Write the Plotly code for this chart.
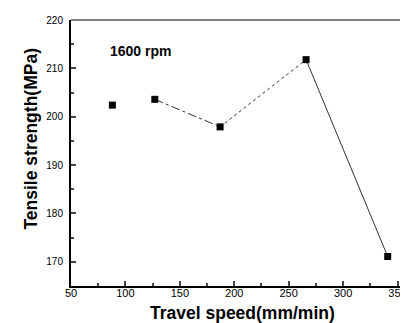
import plotly.graph_objects as go

speed = [88, 127, 187, 266, 341]
strength = [202.4, 203.6, 197.9, 211.8, 171.1]
seg_dash = [None, "dashdot", "dot", "solid"]
x_ticks = [50, 100, 150, 200, 250, 300, 350]
y_ticks = [170, 180, 190, 200, 210, 220]

fig = go.Figure()
for i, d in enumerate(seg_dash):
    if d is None:
        continue
    fig.add_trace(go.Scatter(x=speed[i:i+2], y=strength[i:i+2], mode="lines",
                             line=dict(color="#333", width=1, dash=d), showlegend=False))
fig.add_trace(go.Scatter(x=speed, y=strength, mode="markers",
                         marker=dict(symbol="square", size=7, color="black"), showlegend=False))

font = dict(family="Liberation Sans, Arial", color="black")
fig.update_layout(
    width=408, height=323, margin=dict(l=63, r=0, t=12, b=45),
    plot_bgcolor="white", paper_bgcolor="white", font=font,
    xaxis=dict(range=[50, 367], tickvals=x_ticks, ticks="inside", ticklen=5, tickwidth=1.5,
               showline=True, linewidth=2, linecolor="black", showgrid=False, zeroline=False,
               tickfont=dict(size=11), ticklabelstandoff=-4, ticklabeloverflow="allow",
               minor=dict(ticks="inside", ticklen=3, dtick=25, tick0=25, showgrid=False)),
    yaxis=dict(range=[165, 220], tickvals=y_ticks, ticks="inside", ticklen=5, tickwidth=1.5,
               showline=True, linewidth=2, linecolor="black", showgrid=False, zeroline=False,
               tickfont=dict(size=10), ticklabelstandoff=4,
               minor=dict(ticks="inside", ticklen=3, dtick=5, tick0=165, showgrid=False)),
    shapes=[dict(type="line", xref="paper", yref="paper", x0=0, x1=1, y0=1, y1=1,
                 line=dict(color="black", width=1))],
    annotations=[
        dict(text="<b>1600 rpm</b>", x=0.107, y=0.883, xref="paper", yref="paper",
             xanchor="left", yanchor="middle", showarrow=False, font=dict(size=14)),
        dict(text="<b>Travel speed(mm/min)</b>", x=0.496, y=-0.1015, xref="paper", yref="paper",
             xanchor="center", yanchor="middle", showarrow=False, font=dict(size=17.5)),
        dict(text="<b>Tensile strength(MPa)</b>", x=-0.117, y=0.553, xref="paper", yref="paper",
             xanchor="center", yanchor="middle", showarrow=False, textangle=-90, font=dict(size=17.5)),
    ],
)
fig.write_html("out.html")
